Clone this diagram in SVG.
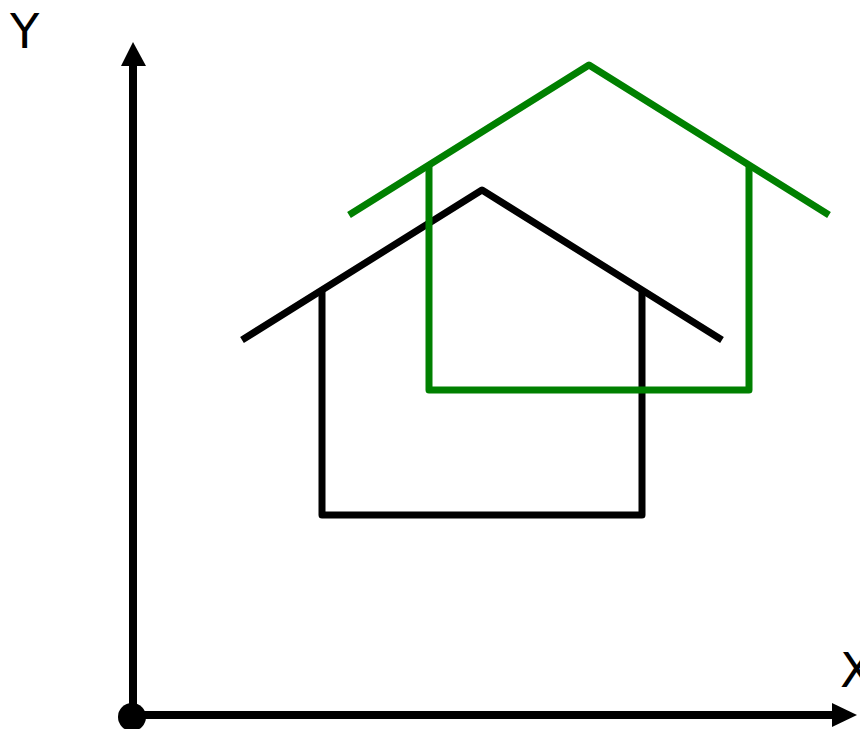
<svg xmlns="http://www.w3.org/2000/svg" width="860" height="729" viewBox="0 0 860 729">
<style>
.ax{stroke:#000;stroke-width:8;fill:none}
.h{fill:none;stroke-width:7;stroke-linejoin:round;stroke-linecap:butt}
.lbl{font-family:"DejaVu Sans",sans-serif;font-size:48px;fill:#000}
</style>
<rect width="860" height="729" fill="#fff"/>
<g id="axes">
<line class="ax" x1="133" y1="716" x2="133" y2="64"/>
<polygon points="133,42 121,66 146,66" fill="#000"/>
<line class="ax" x1="133" y1="715" x2="834" y2="715"/>
<polygon points="857,715 832,703 832,727" fill="#000"/>
<circle cx="132" cy="717" r="14" fill="#000"/>
<text class="lbl" x="10" y="48">Y</text>
<text class="lbl" x="840" y="687">X</text>
</g>
<g id="house-black">
<polyline class="h" stroke="#000" points="242,340 482,190 722,340"/>
<polyline class="h" stroke="#000" points="322,290 322,515 642,515 642,290"/>
</g>
<g id="house-green">
<polyline class="h" stroke="#008000" points="349,215 589,65 829,215"/>
<polyline class="h" stroke="#008000" points="429,165 429,390 749,390 749,165"/>
</g>
</svg>
